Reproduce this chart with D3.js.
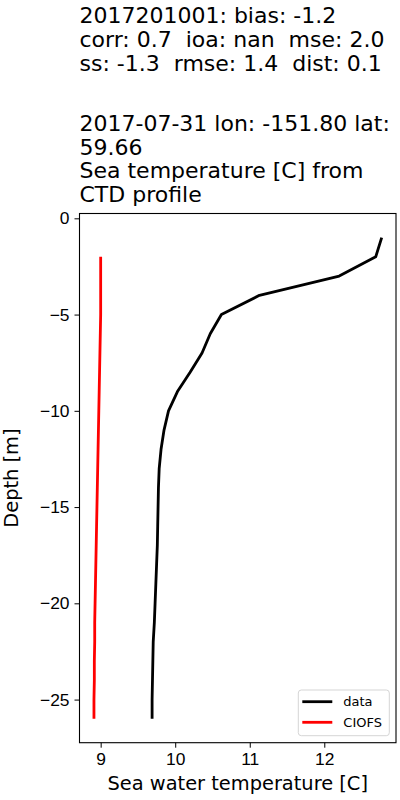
<!DOCTYPE html>
<style>
  body { margin: 0; background: white; }
  svg { font-family: "DejaVu Sans", sans-serif; display: block; }
  .title { white-space: pre; }
  .axis path, .axis line { stroke: black; }
  .axis text { font-size: 17.4px; fill: black; }
</style>
<body>
</body>
<script src="https://cdn.jsdelivr.net/npm/d3@7/dist/d3.min.js"></script>
<script>
  const titleLines = [
    '2017201001: bias: -1.2',
    'corr: 0.7  ioa: nan  mse: 2.0',
    'ss: -1.3  rmse: 1.4  dist: 0.1',
    '2017-07-31 lon: -151.80 lat:',
    '59.66',
    'Sea temperature [C] from',
    'CTD profile',
  ];
  const titleBase = [22.7, 46.7, 70.7, 130.7, 154.5, 178.3, 202];

  const obsDepth = [-1, -2, -3, -4, -5, -6, -7, -8, -9, -10, -11, -12, -13,
    -14, -15, -16, -17, -18, -19, -20, -21, -22, -23, -24, -25, -26];
  const obsTemp = [12.77, 12.69, 12.20, 11.13, 10.62, 10.47, 10.36, 10.20, 10.03,
    9.91, 9.85, 9.81, 9.785, 9.775, 9.77, 9.765, 9.76, 9.75, 9.74, 9.73, 9.72,
    9.705, 9.70, 9.695, 9.69, 9.69];

  const modelDepth = [-2, -3, -4, -5, -6, -7, -8, -9, -10, -11, -12, -13, -14,
    -15, -16, -17, -18, -19, -20, -21, -22, -23, -24, -25, -26];
  const modelTemp = [9.00, 9.00, 9.00, 9.00, 8.995, 8.99, 8.985, 8.98, 8.975,
    8.97, 8.965, 8.96, 8.955, 8.95, 8.945, 8.94, 8.935, 8.93, 8.925, 8.92,
    8.92, 8.915, 8.915, 8.91, 8.91];

  const xTicks = [9, 10, 11, 12];
  const yTicks = [0, -5, -10, -15, -20, -25];
  const series = [
    {name: 'data', color: 'black', depth: obsDepth, temp: obsTemp},
    {name: 'CIOFS', color: 'red', depth: modelDepth, temp: modelTemp},
  ];

  const w = 400, h = 800;
  const l = 79.5, r = 396, t = 213.5, b = 742.7;

  const svg = d3.select('body').append('svg')
    .attr('width', w)
    .attr('height', h);

  const x = d3.scaleLinear().domain([8.716, 12.962]).range([l, r]);
  const y = d3.scaleLinear().domain([0.25, -27.24]).range([t, b]);

  // title
  svg.append('text')
    .attr('class', 'title')
    .attr('font-size', 22)
    .attr('fill', 'black')
    .selectAll('tspan')
    .data(titleLines)
    .join('tspan')
    .attr('x', l)
    .attr('y', (d, i) => titleBase[i])
    .text(d => d);

  // lines
  const line = d3.line()
    .x(d => x(d[0]))
    .y(d => y(d[1]));

  svg.append('g')
    .selectAll('path')
    .data(series)
    .join('path')
    .attr('fill', 'none')
    .attr('stroke', d => d.color)
    .attr('stroke-width', 2.8)
    .attr('stroke-linejoin', 'round')
    .attr('d', d => line(d.temp.map((v, i) => [v, d.depth[i]])));

  // axes
  svg.append('g')
    .attr('class', 'axis')
    .attr('transform', `translate(0, ${b})`)
    .call(d3.axisBottom(x)
            .tickValues(xTicks)
            .tickFormat(d3.format('d'))
            .tickSize(5)
            .tickPadding(5)
            .tickSizeOuter(0))
    .call(g => g.select('.domain').remove());

  svg.append('g')
    .attr('class', 'axis')
    .attr('transform', `translate(${l}, 0)`)
    .call(d3.axisLeft(y)
            .tickValues(yTicks)
            .tickFormat(d => d < 0 ? '\u2212' + Math.abs(d) : d)
            .tickSize(5)
            .tickPadding(5)
            .tickSizeOuter(0))
    .call(g => g.select('.domain').remove());

  svg.append('rect')
    .attr('x', l).attr('y', t)
    .attr('width', r - l).attr('height', b - t)
    .attr('fill', 'none')
    .attr('stroke', 'black')
    .attr('stroke-width', 1.1);

  // axis labels
  svg.append('text')
    .attr('x', (l + r) / 2)
    .attr('y', 790)
    .attr('text-anchor', 'middle')
    .attr('font-size', 19.4)
    .text('Sea water temperature [C]');

  svg.append('text')
    .attr('transform', `translate(17.5, ${(t + b) / 2}) rotate(-90)`)
    .attr('text-anchor', 'middle')
    .attr('font-size', 19.4)
    .text('Depth [m]');

  // legend
  const legend = svg.append('g')
    .attr('transform', 'translate(298.3, 690)');
  legend.append('rect')
    .attr('width', 91).attr('height', 45.7)
    .attr('rx', 3)
    .attr('fill', 'white')
    .attr('fill-opacity', 0.8)
    .attr('stroke', '#d5d5d5');
  const item = legend.selectAll('g')
    .data(series)
    .join('g')
    .attr('transform', (d, i) => `translate(0, ${11.7 + i * 20.6})`);
  item.append('line')
    .attr('x1', 4).attr('x2', 34)
    .attr('stroke', d => d.color)
    .attr('stroke-width', 2.8);
  item.append('text')
    .attr('x', 45)
    .attr('dy', '0.35em')
    .attr('font-size', 13)
    .text(d => d.name);
</script>
